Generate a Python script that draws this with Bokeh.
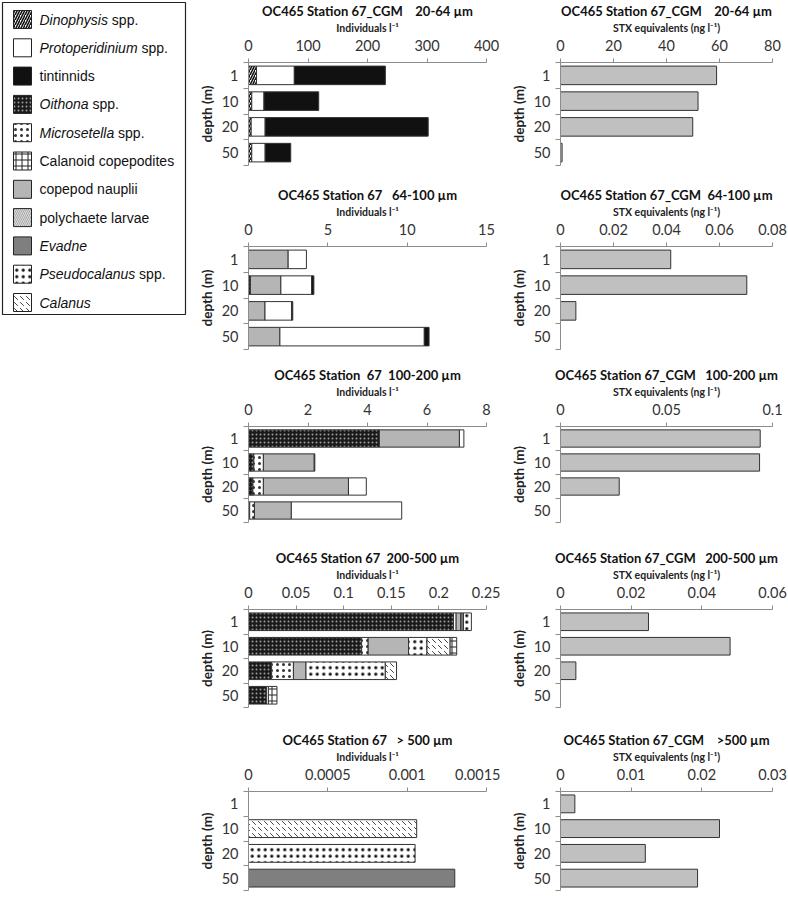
import numpy as np
from bokeh.plotting import figure
from bokeh.models import Range1d, FixedTicker, PrintfTickFormatter, ColumnDataSource
from bokeh.layouts import row, column
from bokeh.embed import file_html
from bokeh.resources import INLINE
from bokeh.core.properties import value

# ---------------- data ----------------
depths = ["1", "10", "20", "50"]

species = ["Dinophysis spp.", "Protoperidinium spp.", "tintinnids", "Oithona spp.",
           "Microsetella spp.", "Calanoid copepodites", "copepod nauplii",
           "polychaete larvae", "Evadne", "Pseudocalanus spp.", "Calanus"]
legend_italic = ["Dinophysis", "Protoperidinium", "", "Oithona", "Microsetella", "",
                 "", "", "Evadne", "Pseudocalanus", "Calanus"]
legend_plain = ["spp.", "spp.", "tintinnids", "spp.", "spp.", "Calanoid copepodites",
                "copepod nauplii", "polychaete larvae", "", "spp.", ""]

# left-to-right order of the stacked segments
stack_order = ["Dinophysis spp.", "Oithona spp.", "Microsetella spp.", "copepod nauplii",
               "polychaete larvae", "Protoperidinium spp.", "tintinnids", "Evadne",
               "Pseudocalanus spp.", "Calanus", "Calanoid copepodites"]

# Individuals l-1 by depth (1, 10, 20, 50 m)
ind_20_64 = {"Dinophysis spp.": [13.5, 5.5, 4.5, 5.5],
             "Protoperidinium spp.": [63.5, 20.5, 23.5, 22.5],
             "tintinnids": [153, 92, 274, 43]}
ind_64_100 = {"Oithona spp.": [0, 0.12, 0, 0],
              "copepod nauplii": [2.5, 1.92, 1.04, 1.98],
              "Protoperidinium spp.": [1.15, 1.94, 1.67, 9.1],
              "tintinnids": [0, 0.14, 0.08, 0.3]}
ind_100_200 = {"Oithona spp.": [4.4, 0.18, 0.15, 0.04],
               "Microsetella spp.": [0, 0.32, 0.35, 0.16],
               "copepod nauplii": [2.69, 1.71, 2.86, 1.24],
               "Protoperidinium spp.": [0.15, 0.02, 0.6, 3.71]}
ind_200_500 = {"Oithona spp.": [0.2153, 0.1188, 0.0243, 0.0188],
               "Microsetella spp.": [0.0028, 0.0069, 0.0229, 0.0021],
               "copepod nauplii": [0.0049, 0.0424, 0.0132, 0],
               "Evadne": [0.0028, 0, 0, 0],
               "Pseudocalanus spp.": [0.0083, 0.0194, 0.0833, 0],
               "Calanus": [0, 0.0243, 0.0118, 0],
               "Calanoid copepodites": [0, 0.0069, 0, 0.009]}
ind_500 = {"Calanus": [0, 0.00106, 0, 0],
           "Pseudocalanus spp.": [0, 0, 0.00105, 0],
           "Evadne": [0, 0, 0, 0.0013]}

# STX equivalents (ng l-1) by depth
stx_20_64 = [58.9, 51.9, 49.9, 0.6]
stx_64_100 = [0.0416, 0.0703, 0.0058, 0]
stx_100_200 = [0.0942, 0.0939, 0.0277, 0]
stx_200_500 = [0.0249, 0.048, 0.00435, 0]
stx_500 = [0.00203, 0.0225, 0.012, 0.0194]

ticks_ind = [[0, 100, 200, 300, 400], [0, 5, 10, 15], [0, 2, 4, 6, 8],
             [0, 0.05, 0.1, 0.15, 0.2, 0.25], [0, 0.0005, 0.001, 0.0015]]
ticks_stx = [[0, 20, 40, 60, 80], [0, 0.02, 0.04, 0.06, 0.08], [0, 0.05, 0.1],
             [0, 0.02, 0.04, 0.06], [0, 0.01, 0.02, 0.03]]

NB = "\u00a0"
titles_ind = ["OC465 Station 67_CGM" + NB * 4 + "20-64 µm",
              "OC465 Station 67" + NB * 3 + "64-100 µm",
              "OC465 Station" + NB * 2 + "67" + NB * 2 + "100-200 µm",
              "OC465 Station 67" + NB * 2 + "200-500 µm",
              "OC465 Station 67" + NB * 3 + "> 500 µm"]
titles_stx = ["OC465 Station 67_CGM" + NB * 4 + "20-64 µm",
              "OC465 Station 67_CGM" + NB * 2 + "64-100 µm",
              "OC465 Station 67_CGM" + NB * 3 + "100-200 µm",
              "OC465 Station 67_CGM" + NB * 3 + "200-500 µm",
              "OC465 Station 67_CGM" + NB * 4 + ">500 µm"]
ind_label = "Individuals l⁻¹"
stx_label = "STX equivalents (ng l⁻¹)"

# ---------------- styles ----------------
STYLE = {
    "Dinophysis spp.": dict(fill_color="white", hatch_pattern="right_diagonal_line", hatch_color="#111", hatch_scale=5, hatch_weight=1.6),
    "Protoperidinium spp.": dict(fill_color="white", hatch_pattern=None),
    "tintinnids": dict(fill_color="#111111", hatch_pattern=None),
    "Oithona spp.": dict(fill_color="#1a1a1a", hatch_pattern="dot", hatch_color="#9a9a9a", hatch_scale=4, hatch_weight=1),
    "Microsetella spp.": dict(fill_color="white", hatch_pattern="dot", hatch_color="#333", hatch_scale=6, hatch_weight=1),
    "Calanoid copepodites": dict(fill_color="white", hatch_pattern="cross", hatch_color="#222", hatch_scale=6, hatch_weight=1),
    "copepod nauplii": dict(fill_color="#b5b5b5", hatch_pattern=None),
    "polychaete larvae": dict(fill_color="#dcdcdc", hatch_pattern="left_diagonal_line", hatch_color="#a8a8a8", hatch_scale=4, hatch_weight=1),
    "Evadne": dict(fill_color="#7f7f7f", hatch_pattern=None),
    "Pseudocalanus spp.": dict(fill_color="white", hatch_pattern="dot", hatch_color="#111", hatch_scale=6.5, hatch_weight=2.4),
    "Calanus": dict(fill_color="white", hatch_pattern="left_diagonal_dash", hatch_color="#444", hatch_scale=6, hatch_weight=1),
}
STX_FILL = "#c0c0c0"
LINE = "#333333"
FONT = "Lato"
BAR_H = 0.72

# layout sizes (pixels)
LEG_W, LEG_H = 190, 320
LEFT_W, RIGHT_W = 310, 288
FIG_H = [184, 180, 183, 182, 171]
BORDER_BOTTOM = [19, 15, 25, 22, 10]
BORDER_TOP = 61


def style_panel(p, ticks, xlabel, title):
    p.title.text = title
    p.title.align = "center"
    p.title.text_font = FONT
    p.title.text_font_size = "13px"
    p.title.text_font_style = "bold"
    p.title.text_color = "#111"
    p.title.standoff = 0
    p.grid.visible = False
    p.outline_line_color = None
    p.background_fill_color = "white"
    p.border_fill_color = "white"

    xa = p.xaxis[0]
    xa.ticker = FixedTicker(ticks=ticks, minor_ticks=[])
    xa.formatter = PrintfTickFormatter(format="%g")
    xa.axis_label = xlabel
    xa.axis_label_text_font = FONT
    xa.axis_label_text_font_size = "10.5px"
    xa.axis_label_text_font_style = "bold"
    xa.axis_label_text_color = "#222"
    xa.axis_label_standoff = 3
    xa.major_label_text_font = FONT
    xa.major_label_text_font_size = "14.5px"
    xa.major_label_text_color = "#333"
    xa.major_label_standoff = 8
    xa.axis_line_color = "#8c8c8c"
    xa.major_tick_line_color = "#8c8c8c"
    xa.major_tick_out = 4
    xa.major_tick_in = 0

    n = len(depths)
    ypos = [n - i - 0.5 for i in range(n)]
    ya = p.yaxis[0]
    ya.ticker = FixedTicker(ticks=ypos, minor_ticks=list(range(n + 1)))
    ya.major_label_overrides = {y: d for y, d in zip(ypos, depths)}
    ya.axis_label = "depth (m)"
    ya.axis_label_text_font = FONT
    ya.axis_label_text_font_size = "13.5px"
    ya.axis_label_text_font_style = "bold"
    ya.axis_label_text_color = "#222"
    ya.axis_label_standoff = 4
    ya.major_label_text_font = FONT
    ya.major_label_text_font_size = "14.5px"
    ya.major_label_text_color = "#333"
    ya.major_label_standoff = 5
    ya.major_tick_line_color = None
    ya.major_tick_out = 0
    ya.minor_tick_line_color = "#8c8c8c"
    ya.minor_tick_out = 5
    ya.minor_tick_in = 0
    ya.axis_line_color = "#8c8c8c"
    return ypos


def make_fig(width, k, ticks, border_left, border_right):
    return figure(width=width, height=FIG_H[k],
                  x_range=Range1d(ticks[0], ticks[-1]),
                  y_range=Range1d(0, len(depths)),
                  x_axis_location="above", output_backend="svg", toolbar_location=None,
                  min_border_top=BORDER_TOP, min_border_bottom=BORDER_BOTTOM[k],
                  min_border_left=border_left, min_border_right=border_right)


def stacked_panel(k, data):
    ticks = ticks_ind[k]
    p = make_fig(LEFT_W, k, ticks, 58, 14)
    ypos = style_panel(p, ticks, ind_label, titles_ind[k])
    cum = np.zeros(len(depths))
    for sp in stack_order:
        if sp not in data:
            continue
        vals = np.array(data[sp], dtype=float)
        left = cum.copy()
        right = cum + vals
        cum = right
        mask = vals > 0
        if not mask.any():
            continue
        src = ColumnDataSource(dict(y=np.array(ypos)[mask], left=left[mask], right=right[mask]))
        p.hbar(y="y", left="left", right="right", height=BAR_H, source=src,
               line_color=LINE, line_width=1, **STYLE[sp])
    return p


def stx_panel(k, vals):
    ticks = ticks_stx[k]
    p = make_fig(RIGHT_W, k, ticks, 60, 16)
    ypos = style_panel(p, ticks, stx_label, titles_stx[k])
    v = np.array(vals, dtype=float)
    mask = v > 0
    src = ColumnDataSource(dict(y=np.array(ypos)[mask], right=v[mask]))
    p.hbar(y="y", left=0, right="right", height=BAR_H, source=src,
           fill_color=STX_FILL, line_color=LINE, line_width=1)
    return p


# ---------------- legend ----------------
ARIAL = {'a': 556, 'b': 556, 'c': 500, 'd': 556, 'e': 556, 'f': 278, 'g': 556, 'h': 556,
         'i': 222, 'j': 222, 'k': 500, 'l': 222, 'm': 833, 'n': 556, 'o': 556, 'p': 556,
         'q': 556, 'r': 333, 's': 500, 't': 278, 'u': 556, 'v': 500, 'w': 722, 'x': 500,
         'y': 500, 'z': 500, ' ': 278, '.': 278, 'C': 722, 'D': 722, 'E': 667, 'M': 833,
         'O': 778, 'P': 667}
LEG_FS = 14


def text_w(s):
    return sum(ARIAL.get(ch, 556) for ch in s) * LEG_FS / 1000.0


leg = figure(width=LEG_W, height=LEG_H, x_range=Range1d(0, LEG_W), y_range=Range1d(LEG_H, 0),
             output_backend="svg", toolbar_location=None, min_border=0)
leg.axis.visible = False
leg.grid.visible = False
leg.outline_line_color = None
leg.quad(left=2, right=185, top=2, bottom=314, fill_color="white", line_color="#222", line_width=1.2)
step = 28.3
for i, sp in enumerate(species):
    yc = 19 + i * step
    leg.rect(x=[22], y=[yc], width=18, height=18, line_color="#222", line_width=1, **STYLE[sp])
    x0 = 39
    if legend_italic[i]:
        leg.text(x=[x0], y=[yc], text=[legend_italic[i]], text_font=value("Liberation Sans"),
                 text_font_style="italic", text_font_size=f"{LEG_FS}px",
                 text_baseline="middle", text_color="#111")
        x0 += text_w(legend_italic[i]) + text_w(" ")
    if legend_plain[i]:
        leg.text(x=[x0], y=[yc], text=[legend_plain[i]], text_font=value("Liberation Sans"),
                 text_font_size=f"{LEG_FS}px", text_baseline="middle", text_color="#111")

ind_sets = [ind_20_64, ind_64_100, ind_100_200, ind_200_500, ind_500]
stx_sets = [stx_20_64, stx_64_100, stx_100_200, stx_200_500, stx_500]

left_col = column([stacked_panel(k, d) for k, d in enumerate(ind_sets)], spacing=0)
right_col = column([stx_panel(k, v) for k, v in enumerate(stx_sets)], spacing=0)
layout = row([column([leg]), left_col, right_col], spacing=0)

open("out.html", "w").write(file_html(layout, INLINE))
